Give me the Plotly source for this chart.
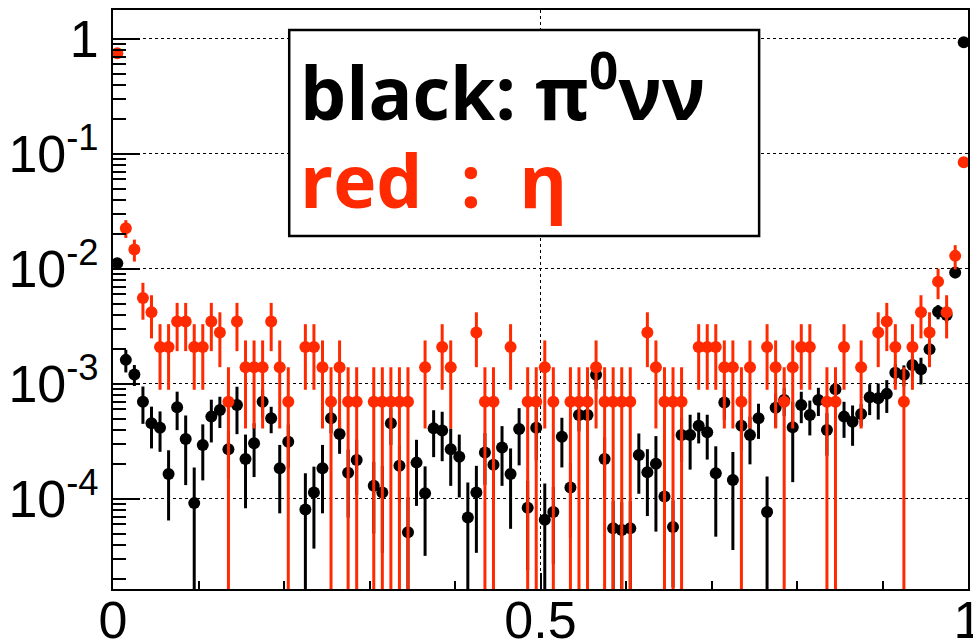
import numpy as np
import plotly.graph_objects as go

# ---- data (100 bins on [0,1]) ----
bin_edges = np.linspace(0.0, 1.0, 101)
bin_centers = 0.5 * (bin_edges[:-1] + bin_edges[1:])

black_vals = [
    0.0112, 1.62e-3, 1.21e-3, 7.0e-4, 4.55e-4, 4.17e-4, 1.65e-4, 6.27e-4, 3.32e-4, 9.2e-5,
    2.95e-4, 5.2e-4, 5.94e-4, 2.7e-4, 6.56e-4, 2.23e-4, 3.05e-4, 7.0e-4, 5.03e-4, 1.85e-4,
    3.15e-4, None, 8.1e-5, 1.14e-4, 1.85e-4, 5.03e-4, 3.67e-4, 1.69e-4, 2.18e-4, None,
    1.30e-4, 1.14e-4, 4.55e-4, 1.94e-4, 5.13e-5, 2.07e-4, 1.12e-4, 4.11e-4, 3.93e-4, 2.7e-4,
    2.33e-4, 6.9e-5, 1.14e-4, 2.53e-4, 1.98e-4, 2.8e-4, 1.65e-4, 4.06e-4, 8.4e-5, 4.17e-4,
    6.6e-5, 7.7e-5, 3.48e-4, 1.26e-4, 5.37e-4, 5.37e-4, 1.2e-3, 2.23e-4, 5.56e-5, 5.37e-5,
    5.56e-5, 2.41e-4, 1.71e-4, 2.02e-4, 1.05e-4, 5.7e-5, 3.6e-4, 3.6e-4, 4.34e-4, 3.8e-4,
    1.67e-4, 6.89e-4, 1.46e-4, 4.34e-4, 3.6e-4, 5.03e-4, 7.7e-5, 6.22e-4, 7.26e-4, 4.2e-4,
    6.56e-4, 5.37e-4, 7.26e-4, 3.98e-4, 9.0e-4, 5.2e-4, 4.7e-4, 5.48e-4, 7.66e-4, 7.5e-4,
    8.2e-4, 1.25e-3, 1.2e-3, 1.46e-3, 1.34e-3, 2.0e-3, 4.25e-3, 3.98e-3, 9.3e-3, 0.935,
]
black_err = [
    1.2e-3, 3.6e-4, 2.5e-4, 2.5e-4, 1.8e-4, 1.6e-4, 1.0e-4, 2.3e-4, 2.0e-4, 9.6e-5,
    1.5e-4, 2.1e-4, 1.8e-4, 1.2e-4, 2.9e-4, 1.4e-4, 1.5e-4, 1.9e-4, 1.3e-4, 1.1e-4,
    1.3e-4, None, 8.6e-5, 7.7e-5, 1.1e-4, 1.3e-4, 1.2e-4, 1.0e-4, 1.1e-4, None,
    8e-5, 8e-5, 1.6e-4, 1.0e-4, 5.2e-5, 1.2e-4, 8e-5, 1.8e-4, 1.8e-4, 1.4e-4,
    1.3e-4, 7e-5, 8e-5, 1.2e-4, 1.1e-4, 1.5e-4, 1.1e-4, 2.1e-4, 6e-5, 2.0e-4,
    7e-5, 5e-5, 1.6e-4, 8e-5, 1.5e-4, 1.5e-4, 3e-4, 1.2e-4, 4e-5, 4e-5,
    4e-5, 1.3e-4, 1.0e-4, 1.5e-4, 7e-5, 4e-5, 1.5e-4, 1.8e-4, 1.3e-4, 1.6e-4,
    1.2e-4, 2.0e-4, 1.1e-4, 1.7e-4, 1.6e-4, 1.7e-4, 8e-5, 2e-4, 2e-4, 2.8e-4,
    2e-4, 1.8e-4, 2e-4, 1.6e-4, 2.5e-4, 1.8e-4, 1.8e-4, 1.2e-4, 2.3e-4, 2.6e-4,
    2.6e-4, 2.5e-4, 2.5e-4, 3e-4, 3.5e-4, 4e-4, 6e-4, 6e-4, 1e-3, 0.01,
]
red_vals = [
    0.751, 0.0226, 0.0148, 5.6e-3, 4.2e-3, 2.1e-3, 2.1e-3, 3.5e-3, 3.5e-3, 2.1e-3,
    2.1e-3, 3.5e-3, 2.8e-3, 7e-4, 3.5e-3, 1.4e-3, 1.4e-3, 1.4e-3, 3.5e-3, 1.4e-3,
    7e-4, None, 2.1e-3, 2.1e-3, 1.4e-3, 7e-4, 1.4e-3, 7e-4, 7e-4, None,
    7e-4, 7e-4, 7e-4, 7e-4, 7e-4, None, 1.4e-3, None, 2.1e-3, 1.4e-3,
    None, None, 2.8e-3, 7e-4, 7e-4, None, 2.1e-3, None, 7e-4, 7e-4,
    1.4e-3, 7e-4, None, 7e-4, 7e-4, 7e-4, 1.4e-3, 7e-4, 7e-4, 7e-4,
    7e-4, None, 2.8e-3, 1.4e-3, 7e-4, 7e-4, 7e-4, None, 2.1e-3, 2.1e-3,
    2.1e-3, 1.4e-3, 1.4e-3, 7e-4, 1.4e-3, None, 2.1e-3, 1.4e-3, 7e-4, 1.4e-3,
    2.1e-3, 2.1e-3, None, 7e-4, 7e-4, 2.1e-3, None, 1.4e-3, None, 2.8e-3,
    3.5e-3, 2.1e-3, 7e-4, 2.1e-3, 4.2e-3, 2.8e-3, 7.76e-3, 4.2e-3, 0.013, 0.0847,
]
red_err = [
    0.023, 4.0e-3, 3.2e-3, 1.98e-3, 1.71e-3, 1.21e-3, 1.21e-3, 1.57e-3, 1.57e-3, 1.21e-3,
    1.21e-3, 1.57e-3, 1.4e-3, 7e-4, 1.57e-3, 9.9e-4, 9.9e-4, 9.9e-4, 1.57e-3, 9.9e-4,
    7e-4, None, 1.21e-3, 1.21e-3, 9.9e-4, 7e-4, 9.9e-4, 7e-4, 7e-4, None,
    7e-4, 7e-4, 7e-4, 7e-4, 7e-4, None, 9.9e-4, None, 1.21e-3, 9.9e-4,
    None, None, 1.4e-3, 7e-4, 7e-4, None, 1.21e-3, None, 7e-4, 7e-4,
    9.9e-4, 7e-4, None, 7e-4, 7e-4, 7e-4, 9.9e-4, 7e-4, 7e-4, 7e-4,
    7e-4, None, 1.4e-3, 9.9e-4, 7e-4, 7e-4, 7e-4, None, 1.21e-3, 1.21e-3,
    1.21e-3, 9.9e-4, 9.9e-4, 7e-4, 9.9e-4, None, 1.21e-3, 9.9e-4, 7e-4, 9.9e-4,
    1.21e-3, 1.21e-3, None, 7e-4, 7e-4, 1.21e-3, None, 9.9e-4, None, 1.4e-3,
    1.57e-3, 1.21e-3, 7e-4, 1.21e-3, 1.71e-3, 1.4e-3, 2.3e-3, 1.71e-3, 3.1e-3, 7.7e-3,
]

y_tick_vals = [1, 0.1, 0.01, 0.001, 0.0001]
y_tick_text = ["1", "10<sup>-1</sup>", "10<sup>-2</sup>", "10<sup>-3</sup>", "10<sup>-4</sup>"]
x_tick_vals = [0, 0.5, 1]
x_tick_text = ["0", "0.5", "1"]

BLACK = "#000000"
RED = "#ff2a00"

def clean(a):
    return [np.nan if v is None else v for v in a]

fig = go.Figure()
for vals, errs, col in [(black_vals, black_err, BLACK), (red_vals, red_err, RED)]:
    fig.add_trace(go.Scatter(
        x=bin_centers, y=clean(vals), mode="markers",
        marker=dict(symbol="circle", size=12, color=col, line=dict(width=0)),
        error_y=dict(type="data", array=clean(errs), visible=True,
                     color=col, thickness=3, width=0),
        showlegend=False, hoverinfo="skip",
    ))

# minor tick positions (log axis: 2..9 per decade)
y_minor = [m * 10.0 ** e for e in range(-5, 0) for m in range(2, 10)]
x_minor = [0.1, 0.2, 0.3, 0.4, 0.6, 0.7, 0.8, 0.9]

tickfont = dict(family="Liberation Sans, Arial, sans-serif", size=52, color="black")

fig.update_layout(
    width=973, height=644,
    margin=dict(l=113, r=5, t=10, b=55, autoexpand=False),
    paper_bgcolor="white", plot_bgcolor="white",
    xaxis=dict(
        range=[0, 1], tickmode="array", tickvals=x_tick_vals, ticktext=x_tick_text,
        ticks="inside", ticklen=16, tickwidth=1.5, tickcolor="black",
        showline=True, mirror=True, linecolor="black", linewidth=2,
        showgrid=True, gridcolor="black", gridwidth=1, griddash="dot",
        zeroline=False, tickfont=tickfont, ticklabelstandoff=-15,
        ticklabeloverflow="allow", automargin=False,
        minor=dict(tickmode="array", tickvals=x_minor, ticks="inside", ticklen=8,
                   tickwidth=1.5, tickcolor="black", showgrid=False),
    ),
    yaxis=dict(
        type="log", range=[-4.783, 0.252], tickmode="array",
        tickvals=y_tick_vals, ticktext=y_tick_text,
        ticks="inside", ticklen=27, tickwidth=1.5, tickcolor="black",
        showline=True, mirror=True, linecolor="black", linewidth=2,
        showgrid=True, gridcolor="black", gridwidth=1, griddash="dot",
        zeroline=False, tickfont=tickfont, ticklabelstandoff=2,
        ticklabeloverflow="allow", automargin=False,
        minor=dict(tickmode="array", tickvals=y_minor, ticks="inside", ticklen=13,
                   tickwidth=1.5, tickcolor="black", showgrid=False),
    ),
)

# text box
fig.add_shape(type="rect", xref="paper", yref="paper",
              x0=0.2061, x1=0.7557, y0=0.6097, y1=0.9655,
              line=dict(color="black", width=2.5), fillcolor="white", layer="above")

boxfont = "Open Sans, Lato, sans-serif"
fig.add_annotation(xref="paper", yref="paper", x=0.2164, y=0.867,
                   xanchor="left", yanchor="middle", showarrow=False,
                   text="<b>black: π<sup>0</sup>νν</b>",
                   font=dict(family=boxfont, size=73, color=BLACK))
fig.add_annotation(xref="paper", yref="paper", x=0.2164, y=0.707,
                   xanchor="left", yanchor="middle", showarrow=False,
                   text="<b>red\u00a0\u00a0:\u00a0\u00a0η</b>",
                   font=dict(family=boxfont, size=73, color=RED))

fig.write_html("out.html")
